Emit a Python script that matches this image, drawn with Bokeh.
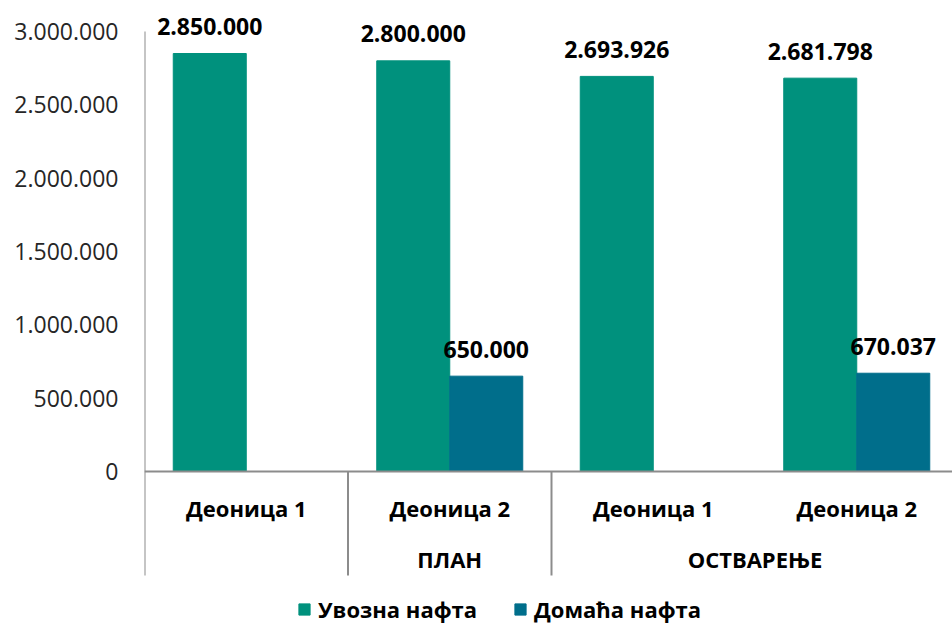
from bokeh.plotting import figure
from bokeh.models import ColumnDataSource, FixedTicker, Legend, LegendItem, Range1d
from bokeh.core.properties import value
from bokeh.embed import file_html
from bokeh.resources import INLINE

# ---- data ----
categories = ["Деоница 1", "Деоница 2", "Деоница 1", "Деоница 2"]
group_names = ["ПЛАН", "ОСТВАРЕЊЕ"]
group_starts = [1, 2]
group_ends = [2, 4]
series_names = ["Увозна нафта", "Домаћа нафта"]
imported = [2850000, 2800000, 2693926, 2681798]
domestic = [None, 650000, None, 670037]
y_ticks = [0, 500000, 1000000, 1500000, 2000000, 2500000, 3000000]

TEAL = "#00917D"
BLUE = "#006E8B"
AXIS = "#8C8C8C"
FONT = "Open Sans"


def fmt(v):
    return f"{v:,}".replace(",", ".")


# ---- geometry ----
W, H = 952, 624
LEFT = 144
px = 3000000 / 440.0          # data units per pixel
zero_px = 471                 # figure px of y=0
y_top = 3000000 + 31 * px
y_bot = -(H - zero_px) * px
band_bottom = -104 * px
cat_px = 203.5
x_end = (W - LEFT) / cat_px
bw = 73 / cat_px

p = figure(width=W, height=H, x_range=Range1d(0, x_end), y_range=Range1d(y_bot, y_top),
           output_backend="svg", toolbar_location=None, x_axis_location=None,
           min_border_left=LEFT, min_border_right=0, min_border_top=0, min_border_bottom=0)
p.outline_line_color = None
p.grid.visible = False
p.background_fill_color = "white"

ya = p.yaxis[0]
ya.ticker = FixedTicker(ticks=y_ticks)
ya.major_label_overrides = {t: fmt(t) for t in y_ticks}
ya.axis_line_color = None
ya.major_tick_line_color = None
ya.minor_tick_line_color = None
ya.major_tick_out = 0
ya.major_label_standoff = 26
ya.major_label_text_font = FONT
ya.major_label_text_font_size = "23px"
ya.major_label_text_color = "#262626"

n = len(categories)
centers = [i + 0.5 for i in range(n)]

src1 = ColumnDataSource(dict(x=[c - bw / 2 for c in centers], top=imported,
                             lab=[fmt(v) for v in imported]))
dx, dtop = [], []
for c, v in zip(centers, domestic):
    if v is not None:
        dx.append(c + bw / 2)
        dtop.append(v)
src2 = ColumnDataSource(dict(x=dx, top=dtop, lab=[fmt(v) for v in dtop]))

r1 = p.vbar(x="x", top="top", bottom=0, width=bw, source=src1, fill_color=TEAL, line_color=TEAL)
r2 = p.vbar(x="x", top="top", bottom=0, width=bw, source=src2, fill_color=BLUE, line_color=BLUE)

for s in (src1, src2):
    p.text(x="x", y="top", text="lab", source=s, text_align="center", text_baseline="middle",
           y_offset=-27, text_font=value(FONT), text_font_style="bold", text_font_size="23px",
           text_color="black")

# axis lines and separators
p.segment(x0=[0], y0=[y_ticks[-1]], x1=[0], y1=[band_bottom], line_color=AXIS, line_width=2)
p.segment(x0=[0], y0=[0], x1=[n], y1=[0], line_color=AXIS, line_width=2)
p.segment(x0=group_starts, y0=[0] * len(group_starts), x1=group_starts,
          y1=[band_bottom] * len(group_starts), line_color=AXIS, line_width=2)

# category labels
p.text(x=centers, y=[0] * n, text=categories, text_align="center", text_baseline="middle",
       y_offset=36, text_font=value(FONT), text_font_style="bold", text_font_size="22px",
       text_color="black")
p.text(x=[(a + b) / 2 for a, b in zip(group_starts, group_ends)], y=[0] * len(group_names),
       text=group_names, text_align="center", text_baseline="middle", y_offset=87,
       text_font=value(FONT), text_font_style="bold", text_font_size="22px", text_color="black")

legend = Legend(items=[LegendItem(label=series_names[0], renderers=[r1]),
                       LegendItem(label=series_names[1], renderers=[r2])],
                orientation="horizontal", location=(153, 0), glyph_width=14, glyph_height=14,
                label_standoff=7, spacing=36, padding=0, margin=0,
                border_line_color=None, background_fill_alpha=0,
                label_text_font=FONT, label_text_font_style="bold", label_text_font_size="22px",
                label_text_color="black")
p.add_layout(legend)

open("out.html", "w").write(file_html(p, INLINE))
